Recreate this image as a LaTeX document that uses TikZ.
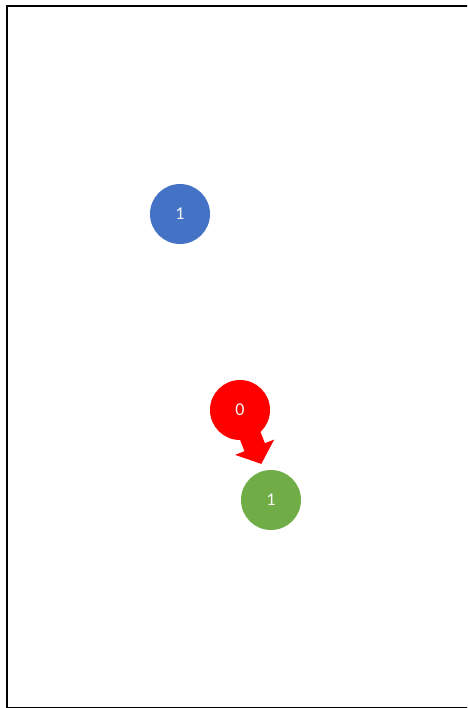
\documentclass[tikz,border=0pt]{standalone}
\usepackage{fontspec}
\setmainfont{Carlito}
\definecolor{cblue}{HTML}{4472C4}
\definecolor{cred}{HTML}{FF0000}
\definecolor{cgreen}{HTML}{70AD47}
\begin{document}
\begin{tikzpicture}[x=1pt,y=-1pt,
  ball/.style={circle,minimum size=60pt,inner sep=0pt,text=white!92!gray,font=\fontsize{18pt}{20pt}\selectfont}]
\useasboundingbox (0,0) rectangle (467,708);
\begin{scope}
\clip (0,0) rectangle (467,708);
\draw[line width=2pt,black] (480,6) -- (7,6) -- (7,707.5) -- (480,707.5);
\end{scope}
\node[ball,fill=cblue] (b) at (180,214) {1};
\node[ball,fill=cred] (r) at (240,410) {0};
\node[ball,fill=cgreen] (g) at (271,500) {1};
\fill[cred] (233.5,423.3) -- (244.5,451.2) -- (235.2,454.9) -- (261.3,463.9) -- (274.2,439.5) -- (264.9,443.2) -- (253.9,415.3) -- cycle;
\end{tikzpicture}
\end{document}
